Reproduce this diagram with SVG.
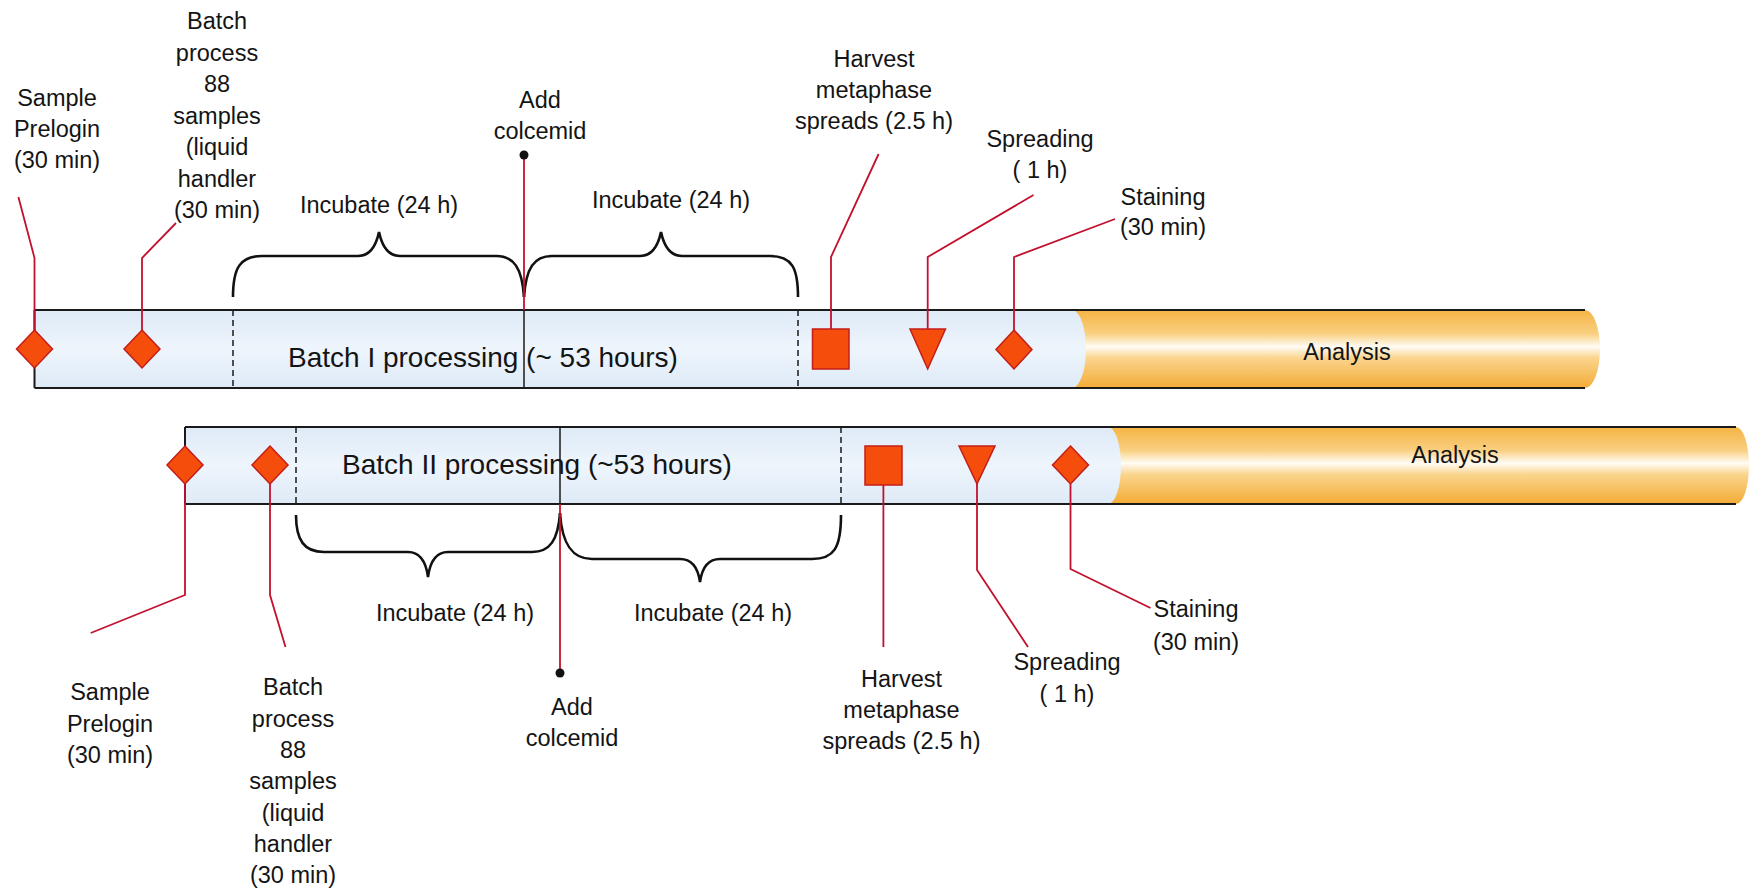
<svg xmlns="http://www.w3.org/2000/svg" width="1749" height="891" viewBox="0 0 1749 891">
<defs>
<linearGradient id="gOrange" x1="0" y1="0" x2="0" y2="1">
<stop offset="0" stop-color="#F5B444"/>
<stop offset="0.3" stop-color="#F9CF80"/>
<stop offset="0.47" stop-color="#FFFCF4"/>
<stop offset="0.62" stop-color="#FAD48C"/>
<stop offset="1" stop-color="#F3AC36"/>
</linearGradient>
<linearGradient id="gBlue" x1="0" y1="0" x2="0" y2="1">
<stop offset="0" stop-color="#DEEAF7"/>
<stop offset="0.5" stop-color="#EEF5FC"/>
<stop offset="1" stop-color="#DEEAF7"/>
</linearGradient>
<style>
text{font-family:"Liberation Sans",Arial,sans-serif;font-size:23.5px;fill:#141414;text-anchor:middle}
.big{font-size:28px;text-anchor:start}
.edge{stroke:#1a1a1a;stroke-width:2;fill:none}
.dash{stroke:#1a1a1a;stroke-width:1.5;stroke-dasharray:6 4;fill:none}
.brace{stroke:#111;stroke-width:2.6;fill:none}
.lead{stroke:#C2112E;stroke-width:1.8;fill:none}
.mk{fill:#F44D0C;stroke:#C41E1A;stroke-width:1.5}
.blk{stroke:#1a1a1a;stroke-width:1.5}
</style>
</defs>
<rect width="1749" height="891" fill="#FFFFFF"/>

<g id="bar1">
<path d="M1060,310 H1585 A15,39 0 0 1 1585,388 H1060 Z" fill="url(#gOrange)"/>
<path d="M34.5,310 H1072 A14,39 0 0 1 1072,388 H34.5 Z" fill="url(#gBlue)"/>
<line class="edge" x1="34.5" y1="310" x2="1585" y2="310"/>
<line class="edge" x1="34.5" y1="388" x2="1585" y2="388"/>
<line class="edge" x1="34.5" y1="310" x2="34.5" y2="388"/>
<line class="dash" x1="233" y1="310" x2="233" y2="388"/>
<line class="dash" x1="798" y1="310" x2="798" y2="388"/>
<line class="blk" x1="524" y1="310" x2="524" y2="388"/>
<text class="big" x="288" y="367">Batch I processing (~ 53 hours)</text>
<text x="1347" y="360">Analysis</text>
</g>

<g id="bar2">
<path d="M1095,427 H1736 A13,38.5 0 0 1 1736,504 H1095 Z" fill="url(#gOrange)"/>
<path d="M185,427 H1108 A13,38.5 0 0 1 1108,504 H185 Z" fill="url(#gBlue)"/>
<line class="edge" x1="185" y1="427" x2="1736" y2="427"/>
<line class="edge" x1="185" y1="504" x2="1736" y2="504"/>
<line class="edge" x1="185" y1="427" x2="185" y2="504"/>
<line class="dash" x1="296" y1="427" x2="296" y2="504"/>
<line class="dash" x1="841" y1="427" x2="841" y2="504"/>
<line class="blk" x1="560" y1="427" x2="560" y2="504"/>
<text class="big" x="342" y="474">Batch II processing (~53 hours)</text>
<text x="1455" y="463">Analysis</text>
</g>

<g id="connectors">
<path class="brace" d="M233,297 C233,268 240,256 262,256 L358,256 C370,256 376,246 379,232 C382,246 388,256 400,256 L496,256 C514,256 522,268 524,297"/>
<path class="brace" d="M524,297 C526,268 534,256 552,256 L640,256 C652,256 658,246 661,232 C664,246 670,256 682,256 L770,256 C792,256 798,268 798,297"/>
<path class="brace" d="M296,515 C296,540 304,552 324,552 L408,552 C420,552 426,562 428,577 C430,562 436,552 448,552 L532,552 C550,552 558,540 560,513"/>
<path class="brace" d="M560,513 C562,544 572,559 592,559 L680,559 C692,559 698,568 700,582 C702,568 708,559 720,559 L812,559 C834,559 841,548 841,515"/>
<line class="lead" x1="524" y1="155" x2="524" y2="310"/>
<circle cx="524" cy="155" r="4.5" fill="#111"/>
<line class="lead" x1="560" y1="504" x2="560" y2="673"/>
<circle cx="560" cy="673" r="4.5" fill="#111"/>
<polyline class="lead" points="34.5,330 34.5,258 18.4,197"/>
<polyline class="lead" points="142,330 142,258 176,223"/>
<polyline class="lead" points="831,329 831,257 878.6,154"/>
<polyline class="lead" points="927.7,329 927.7,257 1033.5,195"/>
<polyline class="lead" points="1014,330 1014,257 1115,219"/>
<polyline class="lead" points="185,484 185,595 90.7,633"/>
<polyline class="lead" points="270,484 270,595 285.5,647"/>
<polyline class="lead" points="883.4,485 883.4,647"/>
<polyline class="lead" points="977,484 977,570 1028,647"/>
<polyline class="lead" points="1070.5,484 1070.5,569 1150.5,608"/>
</g>

<g id="b1-prelogin">
<polygon class="mk" points="34.5,330 52.5,349 34.5,368 16.5,349"/>
<text x="57" y="106">Sample</text><text x="57" y="137">Prelogin</text><text x="57" y="168">(30 min)</text>
</g>
<g id="b1-batch">
<polygon class="mk" points="142,330 160,349 142,368 124,349"/>
<text x="217" y="29">Batch</text><text x="217" y="60.5">process</text><text x="217" y="92">88</text><text x="217" y="123.5">samples</text><text x="217" y="155">(liquid</text><text x="217" y="186.5">handler</text><text x="217" y="218">(30 min)</text>
</g>
<g id="b1-incubate1"><text x="379" y="213">Incubate (24 h)</text></g>
<g id="b1-colcemid"><text x="540" y="108">Add</text><text x="540" y="139">colcemid</text></g>
<g id="b1-incubate2"><text x="671" y="208">Incubate (24 h)</text></g>
<g id="b1-harvest">
<rect class="mk" x="812.5" y="329" width="36.5" height="40"/>
<text x="874" y="67">Harvest</text><text x="874" y="98">metaphase</text><text x="874" y="129">spreads (2.5 h)</text>
</g>
<g id="b1-spreading">
<polygon class="mk" points="910,329 945.5,329 927.7,369"/>
<text x="1040" y="147">Spreading</text><text x="1040" y="178">( 1 h)</text>
</g>
<g id="b1-staining">
<polygon class="mk" points="1014,330 1032,349.5 1014,369 996,349.5"/>
<text x="1163" y="205">Staining</text><text x="1163" y="235">(30 min)</text>
</g>

<g id="b2-prelogin">
<polygon class="mk" points="185,446 203,465 185,484 167,465"/>
<text x="110" y="700">Sample</text><text x="110" y="731.5">Prelogin</text><text x="110" y="763">(30 min)</text>
</g>
<g id="b2-batch">
<polygon class="mk" points="270,446 288,465 270,484 252,465"/>
<text x="293" y="695">Batch</text><text x="293" y="726.5">process</text><text x="293" y="758">88</text><text x="293" y="789">samples</text><text x="293" y="820.5">(liquid</text><text x="293" y="852">handler</text><text x="293" y="883">(30 min)</text>
</g>
<g id="b2-incubate1"><text x="455" y="621">Incubate (24 h)</text></g>
<g id="b2-colcemid"><text x="572" y="715">Add</text><text x="572" y="746">colcemid</text></g>
<g id="b2-incubate2"><text x="713" y="621">Incubate (24 h)</text></g>
<g id="b2-harvest">
<rect class="mk" x="865" y="446" width="37" height="39"/>
<text x="901.5" y="687">Harvest</text><text x="901.5" y="717.5">metaphase</text><text x="901.5" y="748.5">spreads (2.5 h)</text>
</g>
<g id="b2-spreading">
<polygon class="mk" points="959,446 995,446 977,484"/>
<text x="1067" y="670">Spreading</text><text x="1067" y="701.5">( 1 h)</text>
</g>
<g id="b2-staining">
<polygon class="mk" points="1070.5,446 1088.5,465 1070.5,484 1052.5,465"/>
<text x="1196" y="617">Staining</text><text x="1196" y="650">(30 min)</text>
</g>
</svg>
